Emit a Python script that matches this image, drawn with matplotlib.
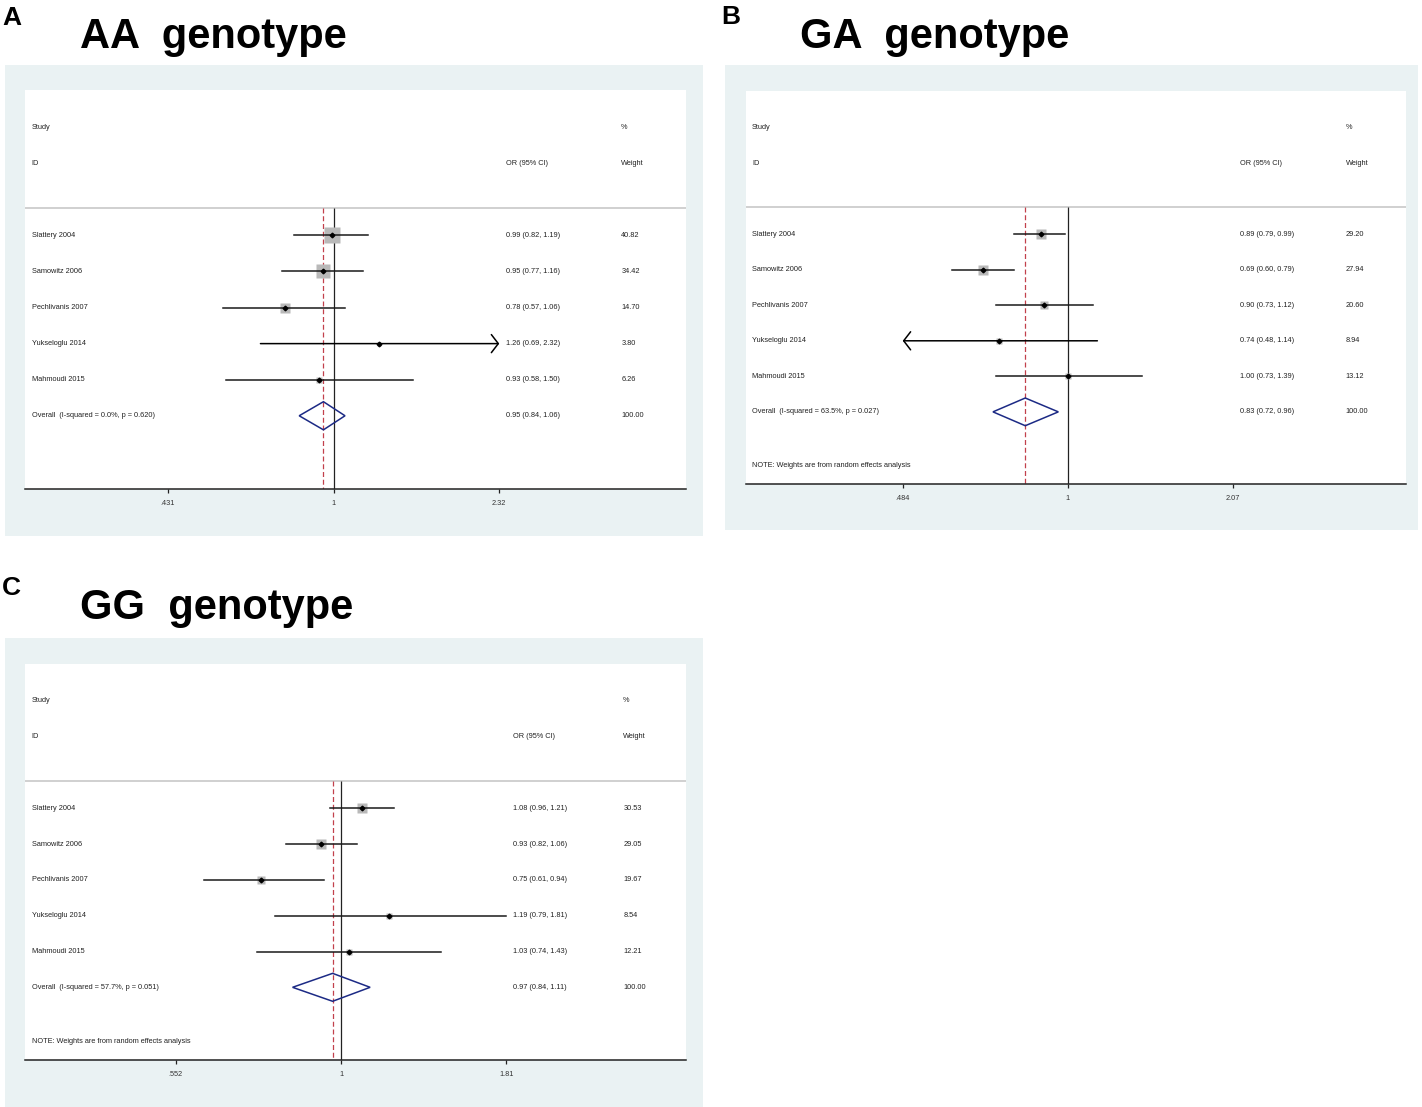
import numpy as np
import matplotlib
matplotlib.use("Agg")
import matplotlib.pyplot as plt
from matplotlib.patches import Rectangle

plt.rcParams['font.family'] = ['Liberation Sans', 'DejaVu Sans']

# ---- data ----
studies = ["Slattery 2004", "Samowitz 2006", "Pechlivanis 2007", "Yukseloglu 2014", "Mahmoudi 2015"]

aa_or = [0.99, 0.95, 0.78, 1.26, 0.93]
aa_lo = [0.82, 0.77, 0.57, 0.69, 0.58]
aa_hi = [1.19, 1.16, 1.06, 2.32, 1.50]
aa_w = [40.82, 34.42, 14.70, 3.80, 6.26]
aa_overall = [0.95, 0.84, 1.06]
aa_het = "I-squared = 0.0%, p = 0.620"
aa_ticks = [0.431, 1, 2.32]
aa_ticklabels = [".431", "1", "2.32"]
aa_arrows = [None, None, None, "right", None]

ga_or = [0.89, 0.69, 0.90, 0.74, 1.00]
ga_lo = [0.79, 0.60, 0.73, 0.48, 0.73]
ga_hi = [0.99, 0.79, 1.12, 1.14, 1.39]
ga_w = [29.20, 27.94, 20.60, 8.94, 13.12]
ga_overall = [0.83, 0.72, 0.96]
ga_het = "I-squared = 63.5%, p = 0.027"
ga_ticks = [0.484, 1, 2.07]
ga_ticklabels = [".484", "1", "2.07"]
ga_arrows = [None, None, None, "left", None]

gg_or = [1.08, 0.93, 0.75, 1.19, 1.03]
gg_lo = [0.96, 0.82, 0.61, 0.79, 0.74]
gg_hi = [1.21, 1.06, 0.94, 1.81, 1.43]
gg_w = [30.53, 29.05, 19.67, 8.54, 12.21]
gg_overall = [0.97, 0.84, 1.11]
gg_het = "I-squared = 57.7%, p = 0.051"
gg_ticks = [0.552, 1, 1.81]
gg_ticklabels = [".552", "1", "1.81"]
gg_arrows = [None, None, None, None, None]

note = "NOTE: Weights are from random effects analysis"

W, H = 1422, 1107
bg = '#eaf2f3'
navy = '#1c2a85'
fs = 5.3

fig = plt.figure(figsize=(W / 100, H / 100), dpi=100)


def px_box(x0, y0, x1, y1):
    # pixel box (top-left origin) -> figure fraction [l, b, w, h]
    return [x0 / W, 1 - y1 / H, (x1 - x0) / W, (y1 - y0) / H]


def forest(box, outer, ticks, ticklabels, f_lo, f_hi, ors, los, his, ws, overall, het,
           arrows, box_scale, col_or, col_w, show_note):
    l, b, w, h = px_box(*outer)
    fig.patches.append(Rectangle((l, b), w, h, transform=fig.transFigure,
                                 facecolor=bg, edgecolor='none', zorder=-5))
    ax = fig.add_axes(px_box(*box))
    ax.set_zorder(2)
    ax.set_facecolor('white')
    ax.set_xscale('log')

    # place the tick range at the wanted fractions of the axis width
    lg_lo, lg_hi = np.log(ticks[0]), np.log(ticks[-1])
    k = (lg_hi - lg_lo) / (f_hi - f_lo)
    a = lg_lo - k * f_lo
    ax.set_xlim(np.exp(a), np.exp(a + k))
    ybot, ytop = 8.03, -3.03
    ax.set_ylim(ybot, ytop)

    for s in ['top', 'left', 'right']:
        ax.spines[s].set_visible(False)
    ax.spines['bottom'].set_color('#222222')
    ax.spines['bottom'].set_linewidth(1.1)
    ax.set_yticks([])
    ax.set_xticks(ticks)
    ax.set_xticklabels(ticklabels)
    ax.xaxis.set_minor_locator(matplotlib.ticker.NullLocator())
    ax.tick_params(axis='x', length=3.2, width=0.9, color='#222222', pad=5,
                   labelsize=fs, labelcolor='#333333')

    hdr = 0.23
    ax.axhline(hdr, color='#c4c4c4', lw=1.1, zorder=1)
    ax.vlines(1, hdr, ybot, color='#222222', lw=0.9, zorder=2)
    ax.vlines(overall[0], hdr, ybot, color='#c2404c', lw=0.9,
              linestyles=(0, (4, 2.2)), zorder=2)

    tr = ax.get_yaxis_transform()
    tx = dict(transform=tr, fontsize=fs, color='#222222', va='center', ha='left')
    ax.text(0.010, -2, "Study", **tx)
    ax.text(0.010, -1, "ID", **tx)
    ax.text(col_or, -1, "OR (95% CI)", **tx)
    ax.text(col_w, -2, "%", **tx)
    ax.text(col_w, -1, "Weight", **tx)

    rows = np.arange(1, len(ors) + 1)
    for r, name, o, lo, hi, wt, arr in zip(rows, studies, ors, los, his, ws, arrows):
        ax.plot(o, r, marker='s', ms=box_scale * np.sqrt(wt), color='#b9b9b9',
                mec='none', zorder=3)
        x0 = max(lo, ticks[0])
        x1 = min(hi, ticks[-1])
        if arr == 'right':
            ax.annotate('', xy=(x1, r), xytext=(x0, r),
                        arrowprops=dict(arrowstyle='->,head_length=0.5,head_width=0.65',
                                        color='black', lw=1.1, shrinkA=0, shrinkB=0,
                                        mutation_scale=10), zorder=4)
        elif arr == 'left':
            ax.annotate('', xy=(x0, r), xytext=(x1, r),
                        arrowprops=dict(arrowstyle='->,head_length=0.5,head_width=0.65',
                                        color='black', lw=1.1, shrinkA=0, shrinkB=0,
                                        mutation_scale=10), zorder=4)
        else:
            ax.plot([x0, x1], [r, r], color='#1a1a1a', lw=1.1, zorder=4)
        ax.plot(o, r, marker='D', ms=2.4, color='black', zorder=5)
        ax.text(0.010, r, name, **tx)
        ax.text(col_or, r, "%.2f (%.2f, %.2f)" % (o, lo, hi), **tx)
        ax.text(col_w, r, "%.2f" % wt, **tx)

    # pooled estimate
    ro = len(ors) + 1
    est, olo, ohi = overall
    ax.fill([olo, est, ohi, est], [ro, ro - 0.39, ro, ro + 0.39],
            facecolor='none', edgecolor=navy, lw=1.1, zorder=5)
    ax.text(0.010, ro, "Overall  (" + het + ")", **tx)
    ax.text(col_or, ro, "%.2f (%.2f, %.2f)" % (est, olo, ohi), **tx)
    ax.text(col_w, ro, "100.00", **tx)
    if show_note:
        ax.text(0.010, 7.5, note, **tx)
    return ax


forest((25, 90, 686, 489), (4.5, 65, 703, 536), aa_ticks, aa_ticklabels, 0.216, 0.7175,
       aa_or, aa_lo, aa_hi, aa_w, aa_overall, aa_het, aa_arrows, 1.8, 0.728, 0.902, False)
forest((745.5, 91, 1406, 484), (725, 65, 1418, 530), ga_ticks, ga_ticklabels, 0.238, 0.738,
       ga_or, ga_lo, ga_hi, ga_w, ga_overall, ga_het, ga_arrows, 1.25, 0.748, 0.9085, True)
forest((25, 664, 686, 1060), (4.5, 638, 703, 1107), gg_ticks, gg_ticklabels, 0.228, 0.728,
       gg_or, gg_lo, gg_hi, gg_w, gg_overall, gg_het, gg_arrows, 1.3, 0.738, 0.905, True)

# panel letters and titles
tf = dict(fontsize=30, fontweight='bold', va='center', ha='left')
lf = dict(fontsize=19, fontweight='bold', va='center', ha='left')
fig.text(2 / W, 1 - 18 / H, "A", **lf)
fig.text(80 / W, 1 - 37 / H, "AA  genotype", **tf)
fig.text(721 / W, 1 - 17 / H, "B", **lf)
fig.text(800 / W, 1 - 37 / H, "GA  genotype", **tf)
fig.text(2 / W, 1 - 588 / H, "C", **lf)
fig.text(80 / W, 1 - 608 / H, "GG  genotype", **tf)

fig.savefig("out.png", dpi=100, facecolor='white')
